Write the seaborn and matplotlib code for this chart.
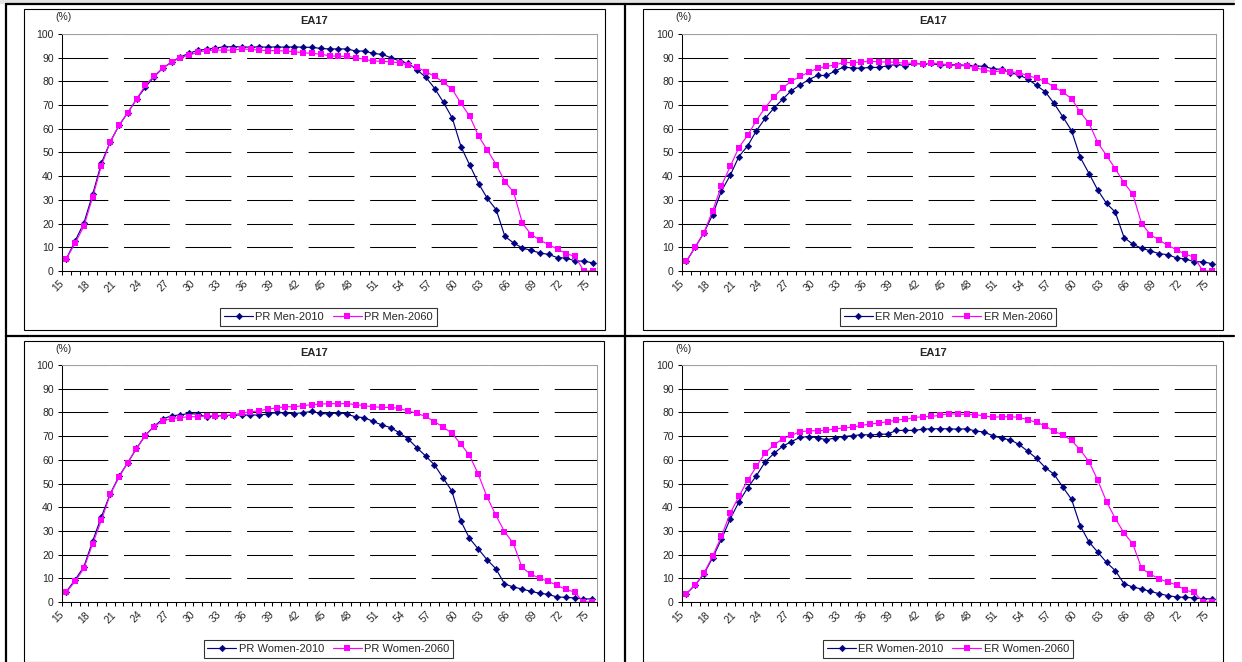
import numpy as np
import pandas as pd
import seaborn as sns
import matplotlib
import matplotlib.pyplot as plt
from matplotlib.lines import Line2D
from matplotlib.patches import Rectangle
from matplotlib.ticker import FixedLocator

# ages 15..75, one category each
ages = list(range(15, 76))
tick_ages = list(range(15, 76, 3))

pr_men_2010 = [
    5.2, 12.7, 20.3, 32.4, 45.6, 54.5, 61.4, 66.8, 72.5, 77.5,
    82.0, 85.6, 88.2, 90.4, 91.8, 93.2, 93.5, 94.1, 94.6, 94.6,
    94.6, 94.4, 94.6, 94.4, 94.6, 94.4, 94.6, 94.4, 94.4, 93.9,
    93.7, 93.7, 93.7, 92.8, 92.8, 91.8, 91.4, 90.0, 88.6, 87.6,
    84.8, 81.7, 77.0, 71.1, 64.5, 52.4, 44.6, 36.9, 30.6, 25.9,
    14.6, 11.8, 9.7, 8.7, 7.6, 7.0, 5.6, 5.5, 4.2, 4.2,
    3.4]
pr_men_2060 = [
    5.2, 11.8, 18.9, 31.3, 44.5, 54.5, 61.4, 66.8, 72.5, 78.3,
    82.3, 85.6, 88.2, 90.0, 91.1, 92.3, 93.0, 93.2, 93.2, 93.2,
    93.7, 93.5, 93.2, 93.0, 93.0, 92.8, 92.5, 92.1, 91.8, 91.5,
    90.8, 90.6, 90.6, 90.0, 89.3, 88.6, 88.5, 88.2, 87.9, 86.8,
    85.9, 84.1, 82.1, 79.6, 76.6, 70.7, 65.2, 56.9, 51.0, 44.9,
    37.7, 33.2, 20.1, 15.4, 13.0, 11.1, 9.2, 7.3, 6.2, 0.0,
    0.0]
er_men_2010 = [
    4.1, 10.0, 16.1, 23.8, 33.7, 40.3, 48.3, 52.8, 59.2, 64.4,
    68.7, 72.5, 76.1, 78.5, 80.8, 82.5, 82.5, 84.4, 86.1, 85.6,
    85.6, 85.9, 85.9, 86.6, 87.2, 86.6, 87.6, 87.3, 87.6, 86.8,
    87.0, 87.0, 86.8, 86.6, 86.3, 85.3, 85.1, 83.7, 82.7, 81.0,
    78.3, 75.6, 70.7, 65.1, 59.2, 47.9, 41.1, 34.1, 28.5, 24.8,
    14.1, 11.3, 9.6, 8.5, 7.3, 6.9, 5.5, 5.1, 3.9, 3.9,
    3.1]
er_men_2060 = [
    4.1, 10.0, 16.1, 25.4, 35.9, 44.1, 52.1, 57.3, 63.5, 68.9,
    73.5, 77.3, 80.1, 82.1, 83.9, 85.6, 86.3, 87.0, 88.0, 87.9,
    88.2, 88.5, 88.2, 88.2, 88.0, 87.7, 87.7, 87.3, 87.7, 87.5,
    87.0, 86.6, 86.6, 85.8, 84.8, 84.1, 84.4, 84.1, 83.7, 82.4,
    81.4, 80.0, 77.6, 75.5, 72.7, 67.0, 62.3, 54.1, 48.7, 43.1,
    37.2, 32.4, 20.0, 15.4, 13.0, 10.8, 9.0, 7.0, 5.9, 0.0,
    0.0]
pr_women_2010 = [
    4.4, 9.4, 14.9, 25.7, 36.0, 45.6, 53.0, 58.8, 64.8, 70.3,
    74.1, 77.2, 78.6, 78.9, 79.6, 79.2, 78.1, 78.6, 78.6, 78.9,
    78.9, 78.9, 78.9, 79.3, 80.0, 79.7, 79.5, 79.9, 80.4, 79.6,
    79.3, 79.9, 79.3, 78.1, 77.8, 76.2, 74.7, 73.6, 71.4, 68.8,
    65.1, 61.6, 57.9, 52.3, 46.8, 34.3, 26.9, 22.4, 17.9, 14.1,
    7.7, 6.3, 5.5, 4.5, 3.7, 3.2, 2.1, 2.0, 1.7, 1.3,
    1.3]
pr_women_2060 = [
    4.2, 8.7, 14.2, 24.6, 34.5, 45.4, 52.6, 58.8, 64.7, 70.2,
    74.0, 76.4, 77.4, 77.8, 78.2, 78.2, 78.5, 78.6, 78.6, 79.0,
    79.7, 80.2, 80.7, 81.4, 81.9, 82.4, 82.4, 82.8, 83.3, 83.5,
    83.7, 83.7, 83.7, 83.3, 82.8, 82.4, 82.1, 82.1, 81.7, 80.6,
    79.6, 78.3, 76.1, 73.8, 71.2, 66.7, 61.9, 54.0, 44.4, 36.7,
    29.7, 24.8, 14.6, 11.7, 10.1, 8.7, 7.0, 5.3, 4.2, 0.0,
    0.0]
er_women_2010 = [
    3.5, 7.2, 11.8, 18.7, 26.4, 35.0, 42.2, 48.2, 53.3, 59.1,
    62.7, 65.7, 67.7, 69.5, 69.8, 69.3, 68.4, 69.3, 69.8, 70.2,
    70.6, 70.5, 70.7, 70.9, 72.4, 72.4, 72.4, 72.9, 73.1, 73.1,
    73.1, 72.9, 73.1, 72.2, 71.7, 70.2, 69.1, 68.4, 66.5, 63.6,
    60.6, 56.7, 53.9, 48.5, 43.3, 32.1, 25.3, 21.0, 16.7, 13.2,
    7.7, 6.3, 5.5, 4.5, 3.5, 2.7, 2.1, 2.0, 1.7, 1.4,
    1.3]
er_women_2060 = [
    3.5, 7.2, 12.1, 19.3, 27.7, 37.4, 44.6, 51.3, 57.2, 62.9,
    66.2, 68.9, 70.3, 71.9, 72.2, 72.3, 72.4, 73.1, 73.4, 73.8,
    74.5, 75.1, 75.5, 76.1, 76.8, 77.1, 77.8, 78.2, 78.3, 78.8,
    79.5, 79.2, 79.2, 79.0, 78.6, 77.9, 78.2, 78.2, 77.9, 76.9,
    75.8, 74.3, 72.0, 70.5, 68.2, 64.1, 59.2, 51.3, 42.3, 35.2,
    29.1, 24.5, 14.2, 11.7, 9.8, 8.4, 7.2, 4.9, 4.2, 0.0,
    0.0]

NAVY = "#000080"
MAGENTA = "#FF00FF"
W, H = 1242, 662

sns.set_style("white")
plt.rcParams['font.family'] = ['Liberation Sans', 'DejaVu Sans']
plt.rcParams['lines.scale_dashes'] = False


def fig_rect(x0, y0, x1, y1):
    # pixel box (from top-left) -> figure fraction
    return [x0 / W, 1 - y1 / H, (x1 - x0) / W, (y1 - y0) / H]


def fig_line(fig, x0, y0, x1, y1, lw=1.6):
    fig.add_artist(Line2D([x0 / W, x1 / W], [1 - y0 / H, 1 - y1 / H],
                          transform=fig.transFigure, color="black", lw=lw))


def draw_panel(fig, old, new, name, frame, plot):
    fx0, fy0, fx1, fy1 = frame
    px0, py0, px1, py1 = plot

    # chart area border
    r = fig_rect(*frame)
    fig.add_artist(Rectangle((r[0], r[1]), r[2], r[3], transform=fig.transFigure,
                             fill=False, ec="black", lw=0.8))

    ax = fig.add_axes(fig_rect(*plot))
    df = pd.DataFrame({"age": ages, "old": old, "new": new})
    sns.lineplot(data=df, x="age", y="old", ax=ax, color=NAVY, linewidth=0.85,
                 marker="D", markersize=3.3, markeredgewidth=0.4, markeredgecolor=NAVY,
                 label=f"{name}-2010")
    sns.lineplot(data=df, x="age", y="new", ax=ax, color=MAGENTA, linewidth=0.85,
                 marker="s", markersize=4.0, markeredgewidth=0, label=f"{name}-2060")

    ax.set_xlim(14.5, 75.5)
    ax.set_ylim(0, 100)
    ax.set_xlabel("")
    ax.set_ylabel("")

    ax.set_yticks(range(0, 101, 10))
    ax.yaxis.grid(True, color="black", lw=0.75, linestyle=(0, (33, 11.3)))
    ax.xaxis.grid(False)
    ax.set_axisbelow(True)

    ax.xaxis.set_major_locator(FixedLocator([a - 0.5 for a in tick_ages]))
    ax.xaxis.set_minor_locator(FixedLocator([a - 0.5 for a in ages + [76]]))
    ax.set_xticklabels([str(a) for a in tick_ages], rotation=45, ha="right",
                       va="center", rotation_mode="anchor")
    ax.tick_params(axis="x", which="both", bottom=True, direction="out", length=3,
                   width=0.75, color="black", labelsize=7.5, pad=5)
    ax.tick_params(axis="y", left=True, direction="out", length=3, width=0.75,
                   color="black", labelsize=7.5, pad=3)

    for s in ["left", "bottom"]:
        ax.spines[s].set_color("black")
        ax.spines[s].set_linewidth(0.75)
    for s in ["top", "right"]:
        ax.spines[s].set_color("#a0a0a0")
        ax.spines[s].set_linewidth(0.75)

    fig.text((fx0 + fx1) / 2 / W, 1 - (fy0 + 11.5) / H, "EA17", ha="center",
             va="center", fontsize=8, fontweight="bold")
    fig.text((px0 + 2) / W, 1 - (py0 - 16.5) / H, "(%)", ha="center", va="center",
             fontsize=7.5)

    handles, labels = ax.get_legend_handles_labels()
    leg = ax.legend(handles, labels, loc="center", ncol=2,
                    bbox_to_anchor=(((px0 + px1) / 2 - 1) / W, 1 - (fy0 + 308) / H),
                    bbox_transform=fig.transFigure, fontsize=8, frameon=True,
                    fancybox=False, handlelength=2.6, handletextpad=0.2,
                    columnspacing=0.8, borderpad=0.35, borderaxespad=0)
    leg.get_frame().set_edgecolor("black")
    leg.get_frame().set_linewidth(0.8)
    return ax


fig = plt.figure(figsize=(W / 100, H / 100), dpi=100)

# table background / grid lines
fig.add_artist(Rectangle((0, 1 - 3.5 / H), 1235 / W, 3.5 / H,
                         transform=fig.transFigure, color="#e4e4e4", lw=0))
fig_line(fig, 6, 4, 1234, 4)
fig_line(fig, 6, 4, 6, 662)
fig_line(fig, 625, 4, 625, 662)
fig_line(fig, 6, 336, 1234, 336)

draw_panel(fig, pr_men_2010, pr_men_2060, "PR Men",
           (24, 9, 605, 330), (62, 34, 597, 271))
draw_panel(fig, er_men_2010, er_men_2060, "ER Men",
           (643, 9, 1223, 330), (682, 34, 1216, 271))
draw_panel(fig, pr_women_2010, pr_women_2060, "PR Women",
           (24, 341, 604, 662), (62, 365, 596.5, 602))
draw_panel(fig, er_women_2010, er_women_2060, "ER Women",
           (643, 341, 1223, 662), (682, 365, 1216, 602))

fig.savefig("out.png", dpi=100)
